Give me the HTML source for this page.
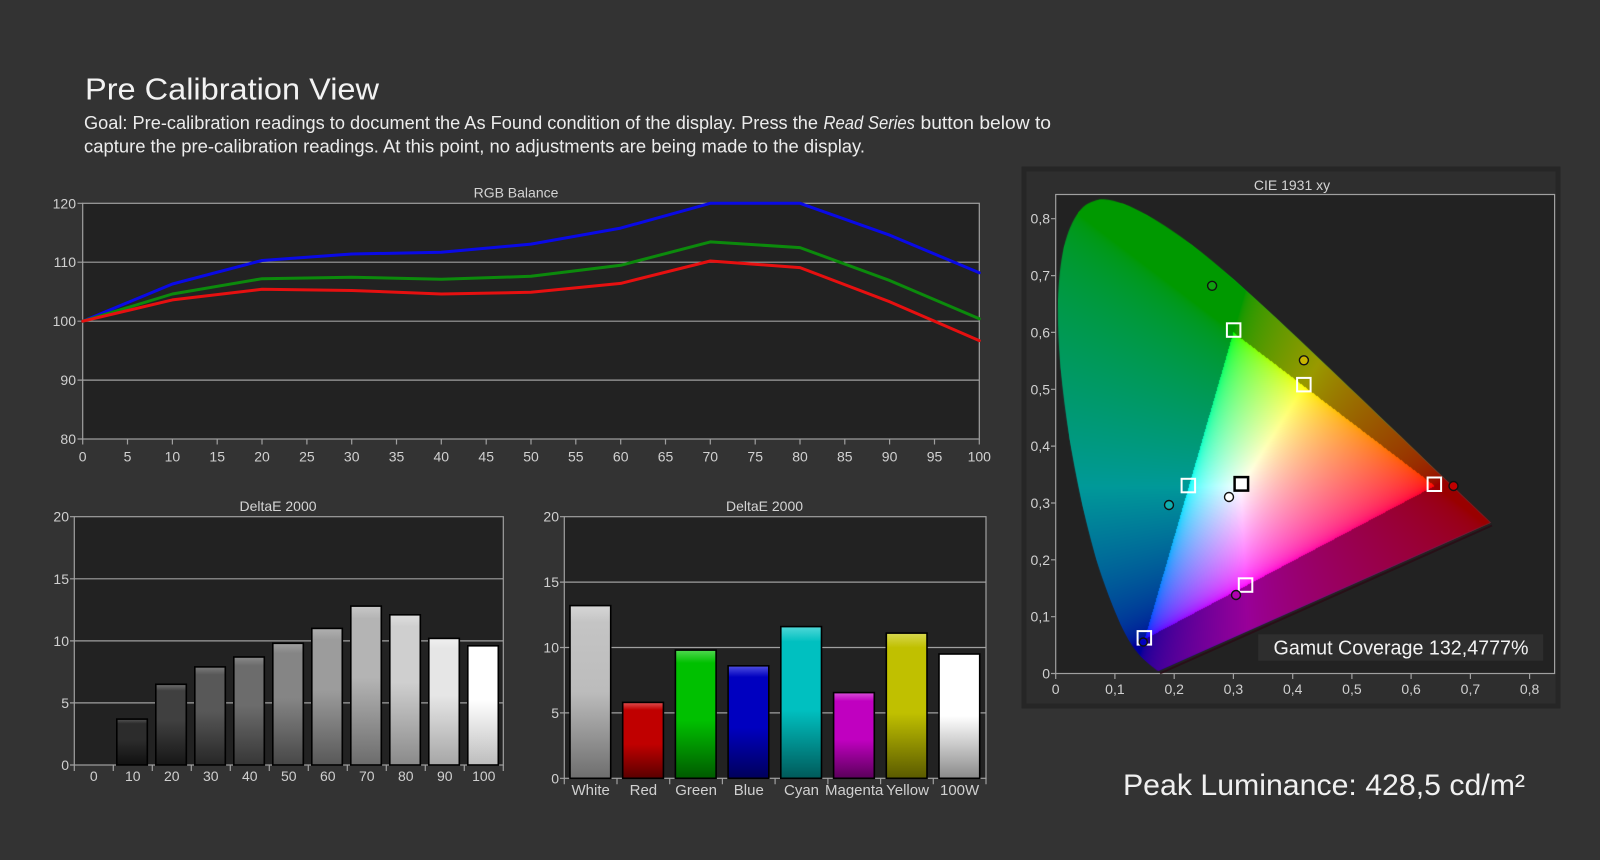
<!DOCTYPE html>
<html><head><meta charset="utf-8">
<style>
html,body{margin:0;padding:0;background:#333333;}
body{width:1600px;height:860px;position:relative;overflow:hidden;}
svg{position:absolute;left:0;top:0;}
#cie{position:absolute;left:1055px;top:194px;}
</style></head>
<body>
<svg id="base" width="1600" height="860" font-family="'Liberation Sans', Arial, sans-serif">
<defs>
 <linearGradient id="g1" x1="0" y1="0" x2="0" y2="1"><stop offset="0" stop-color="#555"/><stop offset="0.1" stop-color="#2c2c2c"/><stop offset="0.45" stop-color="#2c2c2c"/><stop offset="1" stop-color="#101010"/></linearGradient>
 <linearGradient id="g2" x1="0" y1="0" x2="0" y2="1"><stop offset="0" stop-color="#707070"/><stop offset="0.08" stop-color="#404040"/><stop offset="0.45" stop-color="#404040"/><stop offset="1" stop-color="#161616"/></linearGradient>
 <linearGradient id="g3" x1="0" y1="0" x2="0" y2="1"><stop offset="0" stop-color="#7c7c7c"/><stop offset="0.08" stop-color="#585858"/><stop offset="0.45" stop-color="#585858"/><stop offset="1" stop-color="#262626"/></linearGradient>
 <linearGradient id="g4" x1="0" y1="0" x2="0" y2="1"><stop offset="0" stop-color="#8a8a8a"/><stop offset="0.08" stop-color="#6c6c6c"/><stop offset="0.45" stop-color="#6c6c6c"/><stop offset="1" stop-color="#363636"/></linearGradient>
 <linearGradient id="g5" x1="0" y1="0" x2="0" y2="1"><stop offset="0" stop-color="#a0a0a0"/><stop offset="0.08" stop-color="#858585"/><stop offset="0.45" stop-color="#858585"/><stop offset="1" stop-color="#474747"/></linearGradient>
 <linearGradient id="g6" x1="0" y1="0" x2="0" y2="1"><stop offset="0" stop-color="#b0b0b0"/><stop offset="0.08" stop-color="#9c9c9c"/><stop offset="0.45" stop-color="#9c9c9c"/><stop offset="1" stop-color="#585858"/></linearGradient>
 <linearGradient id="g7" x1="0" y1="0" x2="0" y2="1"><stop offset="0" stop-color="#c8c8c8"/><stop offset="0.08" stop-color="#b4b4b4"/><stop offset="0.45" stop-color="#b4b4b4"/><stop offset="1" stop-color="#6c6c6c"/></linearGradient>
 <linearGradient id="g8" x1="0" y1="0" x2="0" y2="1"><stop offset="0" stop-color="#dedede"/><stop offset="0.08" stop-color="#cfcfcf"/><stop offset="0.45" stop-color="#cfcfcf"/><stop offset="1" stop-color="#8a8a8a"/></linearGradient>
 <linearGradient id="g9" x1="0" y1="0" x2="0" y2="1"><stop offset="0" stop-color="#f0f0f0"/><stop offset="0.08" stop-color="#e6e6e6"/><stop offset="0.45" stop-color="#e6e6e6"/><stop offset="1" stop-color="#a6a6a6"/></linearGradient>
 <linearGradient id="g10" x1="0" y1="0" x2="0" y2="1"><stop offset="0" stop-color="#ffffff"/><stop offset="0.45" stop-color="#ffffff"/><stop offset="1" stop-color="#bdbdbd"/></linearGradient>

 <linearGradient id="cW" x1="0" y1="0" x2="0" y2="1"><stop offset="0" stop-color="#d6d6d6"/><stop offset="0.1" stop-color="#c4c4c4"/><stop offset="0.5" stop-color="#bcbcbc"/><stop offset="1" stop-color="#6e6e6e"/></linearGradient>
 <linearGradient id="cR" x1="0" y1="0" x2="0" y2="1"><stop offset="0" stop-color="#e05050"/><stop offset="0.1" stop-color="#c00000"/><stop offset="0.55" stop-color="#c00000"/><stop offset="1" stop-color="#5a0000"/></linearGradient>
 <linearGradient id="cG" x1="0" y1="0" x2="0" y2="1"><stop offset="0" stop-color="#50d850"/><stop offset="0.1" stop-color="#00c000"/><stop offset="0.55" stop-color="#00c000"/><stop offset="1" stop-color="#005a00"/></linearGradient>
 <linearGradient id="cB" x1="0" y1="0" x2="0" y2="1"><stop offset="0" stop-color="#5050e0"/><stop offset="0.1" stop-color="#0000c0"/><stop offset="0.55" stop-color="#0000c0"/><stop offset="1" stop-color="#00005a"/></linearGradient>
 <linearGradient id="cC" x1="0" y1="0" x2="0" y2="1"><stop offset="0" stop-color="#50d8d8"/><stop offset="0.1" stop-color="#00c0c0"/><stop offset="0.55" stop-color="#00c0c0"/><stop offset="1" stop-color="#005a5a"/></linearGradient>
 <linearGradient id="cM" x1="0" y1="0" x2="0" y2="1"><stop offset="0" stop-color="#d850d8"/><stop offset="0.1" stop-color="#c000c0"/><stop offset="0.55" stop-color="#c000c0"/><stop offset="1" stop-color="#5a005a"/></linearGradient>
 <linearGradient id="cY" x1="0" y1="0" x2="0" y2="1"><stop offset="0" stop-color="#d8d850"/><stop offset="0.1" stop-color="#c0c000"/><stop offset="0.55" stop-color="#c0c000"/><stop offset="1" stop-color="#5a5a00"/></linearGradient>
 <linearGradient id="cX" x1="0" y1="0" x2="0" y2="1"><stop offset="0" stop-color="#ffffff"/><stop offset="0.5" stop-color="#ffffff"/><stop offset="1" stop-color="#8a8a8a"/></linearGradient>

 <linearGradient id="lf" gradientUnits="userSpaceOnUse" x1="0" y1="200" x2="0" y2="670"><stop offset="0" stop-color="#009a00"/><stop offset="0.62" stop-color="#009090"/><stop offset="1" stop-color="#1000a0"/></linearGradient>
 <radialGradient id="tri" gradientUnits="userSpaceOnUse" cx="1241" cy="486" r="200"><stop offset="0" stop-color="#ffffff"/><stop offset="1" stop-color="#ff3070"/></radialGradient>
</defs>

<rect width="1600" height="860" fill="#333333"/>

<!-- Header -->
<text x="85" y="99.5" font-size="31" fill="#f2f2f2" textLength="294" lengthAdjust="spacingAndGlyphs">Pre Calibration View</text>
<text x="84" y="129" font-size="18.5" fill="#ececec" textLength="734" lengthAdjust="spacingAndGlyphs">Goal: Pre-calibration readings to document the As Found condition of the display. Press the</text>
<text x="823.5" y="129" font-size="18.5" fill="#ececec" font-style="italic" textLength="91.5" lengthAdjust="spacingAndGlyphs">Read Series</text>
<text x="920.5" y="129" font-size="18.5" fill="#ececec" textLength="130.5" lengthAdjust="spacingAndGlyphs">button below to</text>
<text x="84" y="152.5" font-size="18.5" fill="#ececec" textLength="781" lengthAdjust="spacingAndGlyphs">capture the pre-calibration readings. At this point, no adjustments are being made to the display.</text>

<!-- RGB Balance -->
<text x="516" y="197.5" font-size="14" fill="#d4d4d4" text-anchor="middle">RGB Balance</text>
<rect x="82.7" y="203.3" width="896.6" height="235.7" fill="#222222"/>
<g stroke="#a0a0a0" stroke-width="1.2" fill="none">
 <line x1="82.7" y1="262.2" x2="979.3" y2="262.2"/>
 <line x1="82.7" y1="321.2" x2="979.3" y2="321.2"/>
 <line x1="82.7" y1="380.1" x2="979.3" y2="380.1"/>
 <rect x="82.7" y="203.3" width="896.6" height="235.7"/>
 <path d="M77.5 203.3H82.7M77.5 262.2H82.7M77.5 321.2H82.7M77.5 380.1H82.7M77.5 439H82.7"/>
 <path d="M82.7 439v5.5M127.5 439v5.5M172.4 439v5.5M217.2 439v5.5M262 439v5.5M306.9 439v5.5M351.7 439v5.5M396.5 439v5.5M441.3 439v5.5M486.2 439v5.5M531 439v5.5M575.8 439v5.5M620.7 439v5.5M665.5 439v5.5M710.3 439v5.5M755.2 439v5.5M800 439v5.5M844.8 439v5.5M889.6 439v5.5M934.5 439v5.5M979.3 439v5.5"/>
</g>
<g font-size="14" fill="#d0d0d0" text-anchor="end">
 <text x="76" y="208.3">120</text><text x="76" y="267.2">110</text><text x="76" y="326.2">100</text><text x="76" y="385.1">90</text><text x="76" y="444">80</text>
</g>
<g font-size="14" fill="#d0d0d0" text-anchor="middle">
 <text x="82.7" y="461.5">0</text><text x="127.5" y="461.5">5</text><text x="172.4" y="461.5">10</text><text x="217.2" y="461.5">15</text><text x="262" y="461.5">20</text><text x="306.9" y="461.5">25</text><text x="351.7" y="461.5">30</text><text x="396.5" y="461.5">35</text><text x="441.3" y="461.5">40</text><text x="486.2" y="461.5">45</text><text x="531" y="461.5">50</text><text x="575.8" y="461.5">55</text><text x="620.7" y="461.5">60</text><text x="665.5" y="461.5">65</text><text x="710.3" y="461.5">70</text><text x="755.2" y="461.5">75</text><text x="800" y="461.5">80</text><text x="844.8" y="461.5">85</text><text x="889.6" y="461.5">90</text><text x="934.5" y="461.5">95</text><text x="979.3" y="461.5">100</text>
</g>
<g fill="none" stroke-width="3" stroke-linejoin="round" stroke-linecap="round">
 <polyline stroke="#0a0ae6" points="82.7,321.2 172.4,284.0 262.0,260.5 351.7,254.0 441.3,252.3 531.0,244.1 620.7,228.1 710.3,203.3 800.0,203.3 889.6,235.1 979.3,272.8"/>
 <polyline stroke="#0c8a0c" points="82.7,321.2 172.4,294.0 262.0,278.7 351.7,277.2 441.3,279.3 531.0,276.3 620.7,265.3 710.3,241.9 800.0,247.6 889.6,280.5 979.3,318.8"/>
 <polyline stroke="#e61010" points="82.7,321.2 172.4,299.9 262.0,289.3 351.7,290.5 441.3,294.0 531.0,292.3 620.7,283.4 710.3,261.0 800.0,267.6 889.6,301.7 979.3,340.6"/>
</g>

<!-- DeltaE left -->
<text x="278" y="511" font-size="14" fill="#d4d4d4" text-anchor="middle">DeltaE 2000</text>
<rect x="74.3" y="516.7" width="429" height="248.3" fill="#222222"/>
<g stroke="#a0a0a0" stroke-width="1.2" fill="none">
 <line x1="74.3" y1="578.8" x2="503.3" y2="578.8"/>
 <line x1="74.3" y1="640.9" x2="503.3" y2="640.9"/>
 <line x1="74.3" y1="702.9" x2="503.3" y2="702.9"/>
 <rect x="74.3" y="516.7" width="429" height="248.3"/>
 <path d="M70 516.7H74.3M70 578.8H74.3M70 640.9H74.3M70 702.9H74.3M70 765H74.3"/>
 <path d="M74.3 765v6M113.3 765v6M152.3 765v6M191.3 765v6M230.3 765v6M269.3 765v6M308.3 765v6M347.3 765v6M386.3 765v6M425.3 765v6M464.3 765v6M503.3 765v6"/>
</g>
<g stroke="#000" stroke-width="1.6">
 <rect x="116.8" y="719.1" width="30.5" height="45.9" fill="url(#g1)"/>
 <rect x="155.8" y="684.3" width="30.5" height="80.7" fill="url(#g2)"/>
 <rect x="194.8" y="666.9" width="30.5" height="98.1" fill="url(#g3)"/>
 <rect x="233.8" y="657.0" width="30.5" height="108" fill="url(#g4)"/>
 <rect x="272.8" y="643.3" width="30.5" height="121.7" fill="url(#g5)"/>
 <rect x="311.8" y="628.4" width="30.5" height="136.6" fill="url(#g6)"/>
 <rect x="350.8" y="606.1" width="30.5" height="158.9" fill="url(#g7)"/>
 <rect x="389.8" y="614.8" width="30.5" height="150.2" fill="url(#g8)"/>
 <rect x="428.8" y="638.4" width="30.5" height="126.6" fill="url(#g9)"/>
 <rect x="467.8" y="645.8" width="30.5" height="119.2" fill="url(#g10)"/>
</g>
<g font-size="14" fill="#d0d0d0" text-anchor="end">
 <text x="69" y="521.7">20</text><text x="69" y="583.8">15</text><text x="69" y="645.9">10</text><text x="69" y="707.9">5</text><text x="69" y="770">0</text>
</g>
<g font-size="14" fill="#d0d0d0" text-anchor="middle">
 <text x="93.8" y="781">0</text><text x="132.8" y="781">10</text><text x="171.8" y="781">20</text><text x="210.8" y="781">30</text><text x="249.8" y="781">40</text><text x="288.8" y="781">50</text><text x="327.8" y="781">60</text><text x="366.8" y="781">70</text><text x="405.8" y="781">80</text><text x="444.8" y="781">90</text><text x="483.8" y="781">100</text>
</g>

<!-- DeltaE right -->
<text x="764.5" y="511" font-size="14" fill="#d4d4d4" text-anchor="middle">DeltaE 2000</text>
<rect x="564.3" y="516.7" width="421.7" height="261.6" fill="#222222"/>
<g stroke="#a0a0a0" stroke-width="1.2" fill="none">
 <line x1="564.3" y1="582.1" x2="986" y2="582.1"/>
 <line x1="564.3" y1="647.5" x2="986" y2="647.5"/>
 <line x1="564.3" y1="712.9" x2="986" y2="712.9"/>
 <rect x="564.3" y="516.7" width="421.7" height="261.6"/>
 <path d="M560 516.7H564.3M560 582.1H564.3M560 647.5H564.3M560 712.9H564.3M560 778.3H564.3"/>
 <path d="M564.3 778.3v6M617 778.3v6M669.7 778.3v6M722.4 778.3v6M775.1 778.3v6M827.9 778.3v6M880.6 778.3v6M933.3 778.3v6M986 778.3v6"/>
</g>
<g stroke="#000" stroke-width="1.6">
 <rect x="570" y="605.6" width="40.7" height="172.7" fill="url(#cW)"/>
 <rect x="622.7" y="702.4" width="40.7" height="75.9" fill="url(#cR)"/>
 <rect x="675.4" y="650.1" width="40.7" height="128.2" fill="url(#cG)"/>
 <rect x="728.1" y="665.8" width="40.7" height="112.5" fill="url(#cB)"/>
 <rect x="780.8" y="626.6" width="40.7" height="151.7" fill="url(#cC)"/>
 <rect x="833.6" y="692.6" width="40.7" height="85.7" fill="url(#cM)"/>
 <rect x="886.3" y="633.1" width="40.7" height="145.2" fill="url(#cY)"/>
 <rect x="939" y="654" width="40.7" height="124.3" fill="url(#cX)"/>
</g>
<g font-size="14" fill="#d0d0d0" text-anchor="end">
 <text x="559" y="521.7">20</text><text x="559" y="587.1">15</text><text x="559" y="652.5">10</text><text x="559" y="717.9">5</text><text x="559" y="783.3">0</text>
</g>
<g font-size="15" fill="#d0d0d0" text-anchor="middle">
 <text x="590.7" y="795">White</text><text x="643.4" y="795">Red</text><text x="696.1" y="795">Green</text><text x="748.8" y="795">Blue</text><text x="801.5" y="795">Cyan</text><text x="854.2" y="795">Magenta</text><text x="907.5" y="795">Yellow</text><text x="959.6" y="795">100W</text>
</g>

<!-- CIE panel -->
<rect x="1024" y="169" width="534" height="537" fill="#2e2e2e" stroke="#262626" stroke-width="5"/>
<text x="1292" y="190" font-size="14" fill="#d4d4d4" text-anchor="middle">CIE 1931 xy</text>
<rect x="1055.7" y="194.5" width="498.9" height="479" fill="#222222"/>
<g stroke="#a0a0a0" stroke-width="1.2" fill="none">
 <rect x="1055.7" y="194.5" width="498.9" height="479"/>
 <path d="M1051 673.5H1055.7M1051 616.7H1055.7M1051 559.8H1055.7M1051 503H1055.7M1051 446.1H1055.7M1051 389.3H1055.7M1051 332.4H1055.7M1051 275.6H1055.7M1051 218.7H1055.7"/>
 <path d="M1055.7 673.5v5.5M1114.9 673.5v5.5M1174.2 673.5v5.5M1233.4 673.5v5.5M1292.7 673.5v5.5M1351.9 673.5v5.5M1411.1 673.5v5.5M1470.4 673.5v5.5M1529.6 673.5v5.5"/>
</g>
<g font-size="14" fill="#d0d0d0" text-anchor="end">
 <text x="1050" y="678.5">0</text><text x="1050" y="621.7">0,1</text><text x="1050" y="564.8">0,2</text><text x="1050" y="508">0,3</text><text x="1050" y="451.1">0,4</text><text x="1050" y="394.3">0,5</text><text x="1050" y="337.4">0,6</text><text x="1050" y="280.6">0,7</text><text x="1050" y="223.7">0,8</text>
</g>
<g font-size="14" fill="#d0d0d0" text-anchor="middle">
 <text x="1055.7" y="694">0</text><text x="1114.9" y="694">0,1</text><text x="1174.2" y="694">0,2</text><text x="1233.4" y="694">0,3</text><text x="1292.7" y="694">0,4</text><text x="1351.9" y="694">0,5</text><text x="1411.1" y="694">0,6</text><text x="1470.4" y="694">0,7</text><text x="1529.6" y="694">0,8</text>
</g>
<!-- fallback locus -->
<polygon fill="url(#lf)" points="1158.8,670.7 1148.5,663.4 1141.0,656.6 1129.2,640.6 1120.6,624.2 1109.8,598.1 1096.4,559.4 1082.6,505.8 1069.6,438.9 1060.6,367.4 1058.0,301.2 1063.9,247.0 1078.7,211.9 1099.7,199.5 1123.4,203.8 1147.3,215.3 1191.7,244.7 1234.4,279.9 1276.7,318.5 1318.8,358.2 1359.3,396.9 1396.4,432.3 1427.1,461.7 1465.3,498.2 1481.6,513.8 1490.9,522.7"/>
<polygon fill="url(#tri)" points="1434.8,486.0 1233.4,332.4 1144.6,639.4"/>

<!-- Peak Luminance -->
<text x="1123" y="795" font-size="30" fill="#f0f0f0" textLength="402" lengthAdjust="spacingAndGlyphs">Peak Luminance: 428,5 cd/m²</text>
</svg>

<canvas id="cie" width="500" height="480"></canvas>

<svg id="over" width="1600" height="860" font-family="'Liberation Sans', Arial, sans-serif">
 <line x1="1160" y1="673.5" x2="1492" y2="525.5" stroke="#2a0d16" stroke-width="2" opacity="0.8"/>
 <rect x="1258.2" y="634.3" width="285" height="26.4" fill="#2e2e2e"/>
 <text x="1273.5" y="654.6" font-size="20" fill="#f2f2f2" textLength="255" lengthAdjust="spacingAndGlyphs">Gamut Coverage 132,4777%</text>
 <g fill="none" stroke="#ffffff" stroke-width="2">
  <rect x="1226.9" y="323.3" width="13.5" height="13.5"/>
  <rect x="1297.1" y="377.9" width="13.5" height="13.5"/>
  <rect x="1427.6" y="477.5" width="13.5" height="13.5"/>
  <rect x="1181.6" y="478.8" width="13.5" height="13.5"/>
  <rect x="1137.6" y="631.1" width="13.5" height="13.5"/>
  <rect x="1238.8" y="578.3" width="13.5" height="13.5"/>
 </g>
 <rect x="1234.6" y="477.1" width="13.5" height="13.5" fill="#ffffff" stroke="#000" stroke-width="2.5"/>
 <g stroke="#111" stroke-width="1.4">
  <circle cx="1212.1" cy="285.8" r="4.5" fill="#10a010"/>
  <circle cx="1303.9" cy="360.3" r="4.5" fill="#c8b400"/>
  <circle cx="1453.5" cy="486" r="4.5" fill="#c00000"/>
  <circle cx="1169" cy="505" r="4.5" fill="#10b0b0"/>
  <circle cx="1229" cy="497" r="4.5" fill="#ffffff"/>
  <circle cx="1236" cy="595" r="4.5" fill="#b000b0"/>
  <circle cx="1143.3" cy="642" r="4" fill="#0000c0"/>
 </g>
</svg>

<script>
(function(){
var c=document.getElementById('cie');if(!c||!c.getContext)return;
var ctx=c.getContext('2d');
var W=500,H=480,ox=1055,oy=194;
var L=[[0.1741,0.0050],[0.1740,0.0050],[0.1738,0.0049],[0.1736,0.0049],[0.1733,0.0048],[0.1730,0.0048],[0.1726,0.0048],[0.1721,0.0048],[0.1714,0.0051],[0.1703,0.0058],[0.1689,0.0069],[0.1669,0.0086],[0.1644,0.0109],[0.1611,0.0138],[0.1566,0.0177],[0.1510,0.0227],[0.1440,0.0297],[0.1355,0.0399],[0.1241,0.0578],[0.1096,0.0868],[0.0913,0.1327],[0.0687,0.2007],[0.0454,0.2950],[0.0235,0.4127],[0.0082,0.5384],[0.0039,0.6548],[0.0139,0.7502],[0.0389,0.8120],[0.0743,0.8338],[0.1142,0.8262],[0.1547,0.8059],[0.1929,0.7816],[0.2296,0.7543],[0.2658,0.7243],[0.3016,0.6923],[0.3373,0.6589],[0.3731,0.6245],[0.4087,0.5896],[0.4441,0.5547],[0.4788,0.5202],[0.5125,0.4866],[0.5448,0.4544],[0.5752,0.4242],[0.6029,0.3965],[0.6270,0.3725],[0.6482,0.3514],[0.6658,0.3340],[0.6801,0.3197],[0.6915,0.3083],[0.7006,0.2993],[0.7079,0.2920],[0.7140,0.2859],[0.7190,0.2809],[0.7230,0.2770],[0.7260,0.2740],[0.7300,0.2700],[0.7334,0.2666],[0.7347,0.2653]];
function PX(x){return 1055.7+592.4*x-ox;}
function PY(y){return 673.5-568.5*y-oy;}
var off=document.createElement('canvas');off.width=W;off.height=H;
var oc=off.getContext('2d');
var img=oc.createImageData(W,H);var d=img.data;
function gm(v){return v<=0.0031308?12.92*v:1.055*Math.pow(v,1/2.4)-0.055;}
for(var j=0;j<H;j++){
 for(var i=0;i<W;i++){
  var x=(i+ox+0.5-1055.7)/592.4, y=(673.5-(j+oy+0.5))/568.5;
  if(y<0.002)y=0.002;
  var X=x/y, Z=(1-x-y)/y;
  var r=3.2406*X-1.5372-0.4986*Z, g=-0.9689*X+1.8758+0.0415*Z, b=0.0557*X-0.2040+1.0570*Z;
  var inside=(r>=0&&g>=0&&b>=0);
  if(r<0)r=0;if(g<0)g=0;if(b<0)b=0;
  var m=Math.max(r,g,b)||1;r/=m;g/=m;b/=m;
  var k=inside?1:0.6;
  var p=(j*W+i)*4;
  d[p]=Math.round(255*gm(r)*k);d[p+1]=Math.round(255*gm(g)*k);d[p+2]=Math.round(255*gm(b)*k);d[p+3]=255;
 }
}
oc.putImageData(img,0,0);
var P=L.map(function(q){return [PX(q[0]),PY(q[1])];});
ctx.beginPath();
ctx.moveTo(P[0][0],P[0][1]);
for(var n=0;n<P.length-1;n++){
 var p0=P[n>0?n-1:0],p1=P[n],p2=P[n+1],p3=P[n+2<P.length?n+2:P.length-1];
 var c1x=p1[0]+(p2[0]-p0[0])/6,c1y=p1[1]+(p2[1]-p0[1])/6;
 var c2x=p2[0]-(p3[0]-p1[0])/6,c2y=p2[1]-(p3[1]-p1[1])/6;
 ctx.bezierCurveTo(c1x,c1y,c2x,c2y,p2[0],p2[1]);
}
ctx.closePath();
ctx.fillStyle=ctx.createPattern(off,'no-repeat');
ctx.fill();
})();
</script>
</body></html>
